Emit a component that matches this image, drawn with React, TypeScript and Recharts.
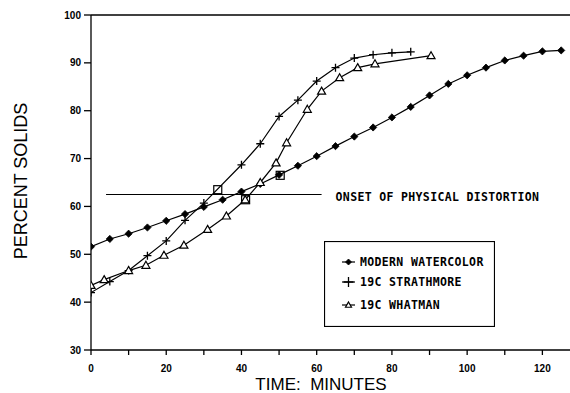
import React from 'react';
import { ComposedChart, Line, Scatter, XAxis, YAxis, ReferenceLine, Legend } from 'recharts';

const modernTimes = [0, 5, 10, 15, 20, 25, 30, 35, 40, 45, 50, 55, 60, 65, 70, 75, 80, 85, 90, 95, 100, 105, 110, 115, 120, 125];
const modernValues = [51.6, 53.2, 54.3, 55.6, 57.0, 58.4, 59.9, 61.4, 63.1, 64.7, 66.6, 68.5, 70.5, 72.6, 74.6, 76.5, 78.6, 80.8, 83.2, 85.6, 87.4, 89.0, 90.5, 91.5, 92.4, 92.6];

const strathTimes = [0, 5, 10, 15, 20, 25, 30, 40, 45, 50, 55, 60, 65, 70, 75, 80, 85];
const strathValues = [42.0, 44.3, 46.6, 49.7, 52.8, 57.1, 60.7, 68.7, 73.1, 78.8, 82.2, 86.2, 89.0, 91.0, 91.7, 92.1, 92.3];

const whatTimes = [0, 3.5, 10, 14.6, 19.4, 24.7, 31, 36, 41, 45, 49.2, 52, 57.5, 61.3, 66.1, 70.9, 75.5, 90.4];
const whatValues = [43.5, 44.7, 46.6, 47.7, 49.8, 51.9, 55.2, 58.0, 61.4, 65.0, 69.1, 73.3, 80.3, 84.1, 86.9, 89.0, 89.8, 91.5];

const onsetTimes = [33.7, 41.1, 50.3];
const onsetValues = [63.5, 61.4, 66.5];

const onsetLevel = 62.5;
const onsetStart = 4;
const onsetEnd = 61.3;

const xTicks = [0, 10, 20, 30, 40, 50, 60, 70, 80, 90, 100, 110, 120];
const yTicks = [30, 40, 50, 60, 70, 80, 90, 100];

const seriesNames = ['MODERN WATERCOLOR', '19C STRATHMORE', '19C WHATMAN'];
const onsetLabel = 'ONSET OF PHYSICAL DISTORTION';
const xLabel = 'TIME:\u00a0\u00a0MINUTES';
const yLabel = 'PERCENT SOLIDS';

const zip = (ts: number[], vs: number[]) => ts.map((t, i) => ({ t, v: vs[i] }));
const modernData = zip(modernTimes, modernValues);
const strathData = zip(strathTimes, strathValues);
const whatData = zip(whatTimes, whatValues);
const onsetData = zip(onsetTimes, onsetValues);

const monoFont = '"DejaVu Sans Mono", monospace';

const Diamond = ({ cx, cy, s = 3.6 }: any) => (
  <path d={`M${cx},${cy - s}L${cx + s},${cy}L${cx},${cy + s}L${cx - s},${cy}Z`} fill="#000" stroke="#000" strokeWidth={0.8} />
);
const Plus = ({ cx, cy, s = 4 }: any) => (
  <path d={`M${cx - s},${cy}L${cx + s},${cy}M${cx},${cy - s}L${cx},${cy + s}`} stroke="#000" strokeWidth={1.3} fill="none" />
);
const Tri = ({ cx, cy, s = 4 }: any) => (
  <path d={`M${cx},${cy - s}L${cx + s},${cy + s * 0.75}L${cx - s},${cy + s * 0.75}Z`} fill="#fff" stroke="#000" strokeWidth={1.2} />
);
const Square = ({ cx, cy }: any) => (
  <rect x={cx - 4} y={cy - 4} width={8} height={8} fill="none" stroke="#000" strokeWidth={1.2} />
);

const renderLegend = () => {
  const rows = [21, 41, 64];
  const markers = [Diamond, Plus, Tri];
  return (
    <svg width={171} height={86} style={{ display: 'block' }}>
      <rect x={0.5} y={0.5} width={170} height={85} fill="#fff" stroke="#000" strokeWidth={1.2} />
      {rows.map((y, i) => {
        const M = markers[i];
        return (
          <g key={i}>
            <line x1={18} x2={31} y1={y} y2={y} stroke="#000" strokeWidth={1.2} />
            <M cx={24.5} cy={y} s={i === 1 ? 5 : 3} />
            <text x={36} y={y + 4} fontFamily={monoFont} fontWeight="bold" fontSize={11.5} letterSpacing={0.35} fill="#000">
              {seriesNames[i]}
            </text>
          </g>
        );
      })}
    </svg>
  );
};

export default function App() {
  return (
    <div style={{ position: 'absolute', left: 0, top: 0, width: 570, height: 393, overflow: 'hidden', background: '#fff' }}>
      <ComposedChart width={580} height={393} margin={{ top: 15, right: 0, bottom: 0, left: 0 }}>
        <XAxis
          type="number"
          dataKey="t"
          domain={[0, 130]}
          ticks={xTicks}
          interval={0}
          tickFormatter={(v: number) => (v % 20 === 0 ? String(v) : '')}
          tickSize={5}
          tickMargin={10}
          height={43}
          stroke="#000"
          strokeWidth={1.3}
          tick={{ fill: '#000', fontSize: 10, fontWeight: 'bold', fontFamily: '"Liberation Sans", Arial, sans-serif' }}
          allowDataOverflow
          label={(props: any) => (
            <text x={321} y={389.5} textAnchor="middle" fontFamily='"Liberation Sans", Arial, sans-serif' fontSize={17} fill="#000">
              {xLabel}
            </text>
          )}
        />
        <YAxis
          type="number"
          domain={[30, 100]}
          ticks={yTicks}
          interval={0}
          width={91}
          tickSize={7}
          tickMargin={3}
          stroke="#000"
          strokeWidth={1.3}
          tick={{ fill: '#000', fontSize: 10, fontWeight: 'bold', fontFamily: '"Liberation Sans", Arial, sans-serif' }}
          label={(props: any) => (
            <text x={27} y={181} transform="rotate(-90 27 181)" textAnchor="middle" fontFamily='"Liberation Sans", Arial, sans-serif' fontSize={18} fill="#000">
              {yLabel}
            </text>
          )}
        />
        <ReferenceLine y={100} stroke="#000" strokeWidth={1.3} />
        <ReferenceLine
          segment={[{ x: onsetStart, y: onsetLevel }, { x: onsetEnd, y: onsetLevel }]}
          stroke="#000"
          strokeWidth={1.1}
          label={(props: any) => {
            const vb = props.viewBox || {};
            const x = (vb.x || 0) + (vb.width || 0) + 14;
            const y = (vb.y || 0) + 7;
            return (
              <text x={x} y={y} fontFamily={monoFont} fontWeight="bold" fontSize={11.5} letterSpacing={0.35} fill="#000">
                {onsetLabel}
              </text>
            );
          }}
        />
        <Line
          data={modernData}
          dataKey="v"
          stroke="#000"
          strokeWidth={1.2}
          isAnimationActive={false}
          dot={(p: any) => <Diamond key={`m${p.index}`} cx={p.cx} cy={p.cy} />}
          activeDot={false}
        />
        <Line
          data={strathData}
          dataKey="v"
          stroke="#000"
          strokeWidth={1.2}
          isAnimationActive={false}
          dot={(p: any) => <Plus key={`s${p.index}`} cx={p.cx} cy={p.cy} />}
          activeDot={false}
        />
        <Line
          data={whatData}
          dataKey="v"
          stroke="#000"
          strokeWidth={1.2}
          isAnimationActive={false}
          dot={(p: any) => <Tri key={`w${p.index}`} cx={p.cx} cy={p.cy} />}
          activeDot={false}
        />
        <Scatter
          data={onsetData}
          dataKey="v"
          isAnimationActive={false}
          shape={(p: any) => <Square cx={p.cx} cy={p.cy} />}
        />
        <Legend
          layout="horizontal"
          verticalAlign="middle"
          align="center"
          content={renderLegend}
          wrapperStyle={{ position: 'absolute', left: 324, top: 241, width: 171, height: 86 }}
        />
      </ComposedChart>
    </div>
  );
}
